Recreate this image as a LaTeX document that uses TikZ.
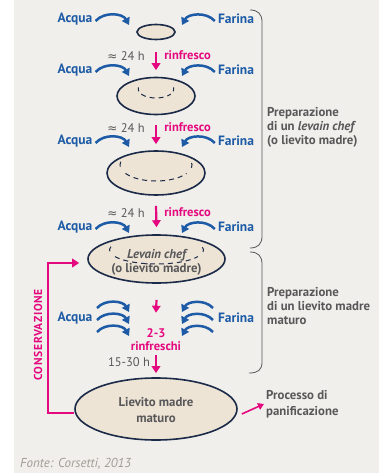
\documentclass[tikz,border=0pt]{standalone}
\usepackage{fontspec}
\setmainfont{PT Sans}
\newfontfamily\symf{DejaVu Sans}
\usetikzlibrary{arrows.meta,shapes.geometric}
\definecolor{bgc}{HTML}{F0EFEB}
\definecolor{blu}{HTML}{1D5BA6}
\definecolor{pnk}{HTML}{E5097F}
\definecolor{eggfill}{HTML}{EDE4D5}
\definecolor{navy}{HTML}{1B2A48}
\definecolor{txt}{HTML}{58585A}
\definecolor{src}{HTML}{A29C95}
\begin{document}
\begin{tikzpicture}[x=1pt,y=-1pt,
  lbl/.style={font=\bfseries\fontsize{13.5}{15}\selectfont, text=blu, inner sep=0pt},
  tm/.style={font=\fontsize{12.5}{14}\selectfont, text=txt, inner sep=0pt},
  rf/.style={font=\bfseries\fontsize{12.5}{14}\selectfont, text=pnk, inner sep=0pt},
  eggnode/.style={ellipse, draw=navy, line width=1.6pt, fill=eggfill, inner sep=0pt},
  barr/.style={draw=blu, line width=2.5pt, -{Triangle[length=7pt,width=8.5pt]}},
  parr/.style={draw=pnk, line width=2.2pt, -{Triangle[length=7pt,width=8.5pt]}},
  innerd/.style={draw=navy, line width=1pt, dash pattern=on 5pt off 4pt},
  brk/.style={draw=txt, line width=0.8pt},
  side/.style={font=\bfseries\fontsize{12.8}{14}\selectfont, text=txt, align=left, inner sep=0pt, anchor=west},
]
\fill[white] (0,0) rectangle (379,473);
\fill[bgc] (14,0) rectangle (379,473);

% eggs
\node[eggnode, minimum width=38pt, minimum height=15pt] (e1) at (156,32) {};
\node[eggnode, minimum width=78pt, minimum height=37pt] (e2) at (156,96) {};
\node[eggnode, minimum width=98pt, minimum height=44pt] (e3) at (156,173) {};
\node[eggnode, minimum width=137pt, minimum height=48pt] (e4) at (156.5,259) {};
\node[eggnode, minimum width=162pt, minimum height=62pt] (e5) at (156,409) {};

% inner dashed rings
\draw[innerd] ([yshift=7pt]e2.center) ++(170:18pt and 9pt) arc[start angle=170, end angle=195, x radius=18pt, y radius=9pt];
\draw[innerd] ([yshift=7pt]e2.center) ++(215:18pt and 9pt) arc[start angle=215, end angle=325, x radius=18pt, y radius=9pt];
\draw[innerd] ([yshift=7pt]e2.center) ++(345:18pt and 9pt) arc[start angle=345, end angle=370, x radius=18pt, y radius=9pt];

\draw[innerd] ([yshift=8pt]e3.center) ++(168:36pt and 16pt) arc[start angle=168, end angle=190, x radius=36pt, y radius=16pt];
\draw[innerd] ([yshift=8pt]e3.center) ++(212:36pt and 16pt) arc[start angle=212, end angle=328, x radius=36pt, y radius=16pt];
\draw[innerd] ([yshift=8pt]e3.center) ++(350:36pt and 16pt) arc[start angle=350, end angle=372, x radius=36pt, y radius=16pt];

\draw[innerd] ([yshift=9pt]e4.center) ++(166:47pt and 14pt) arc[start angle=166, end angle=188, x radius=47pt, y radius=14pt];
\draw[innerd] ([yshift=9pt]e4.center) ++(208:47pt and 14pt) arc[start angle=208, end angle=332, x radius=47pt, y radius=14pt];
\draw[innerd] ([yshift=9pt]e4.center) ++(352:47pt and 14pt) arc[start angle=352, end angle=374, x radius=47pt, y radius=14pt];

\node[font=\bfseries\fontsize{12.8}{14}\selectfont, text=txt, align=center, inner sep=0pt] (t4) at (156.5,262) {\itshape Levain chef\\(o lievito madre)};
\node[font=\bfseries\fontsize{12.8}{16}\selectfont, text=txt, align=center, inner sep=0pt] (t5) at (156,410) {Lievito madre\\maturo};

% Acqua / Farina rows
\foreach \i/\y in {1/19,2/70,3/141,4/227}{
  \node[lbl] (a\i) at (75,\y) {Acqua};
  \node[lbl] (f\i) at (236,\y) {Farina};
  \coordinate (ae\i) at (129,\y+6);
  \coordinate (fe\i) at (182,\y+6);
  \draw[barr] ([xshift=3pt,yshift=-2pt]a\i.east) to[bend left=55] (ae\i);
  \draw[barr] ([xshift=-3pt,yshift=-2pt]f\i.west) to[bend right=55] (fe\i);
}
\node[lbl] (a5) at (75,318) {Acqua};
\node[lbl] (f5) at (236,318) {Farina};
\foreach \k/\d in {1/-12,2/0,3/12}{
  \coordinate (as\k) at (97,320+\d);
  \coordinate (ax\k) at (129,324+\d);
  \coordinate (fs\k) at (213,320+\d);
  \coordinate (fx\k) at (182,324+\d);
  \draw[barr] (as\k) to[bend left=55] (ax\k);
  \draw[barr] (fs\k) to[bend right=55] (fx\k);
}

% time / rinfresco labels
\node[tm] (h1) at (126,56) {{\symf\fontsize{12}{12}\selectfont ≈} 24 h};
\node[rf] (r1) at (187.5,55) {rinfresco};
\node[tm] (h2) at (126,128) {{\symf\fontsize{12}{12}\selectfont ≈} 24 h};
\node[rf] (r2) at (187.5,127) {rinfresco};
\node[tm] (h3) at (126,213) {{\symf\fontsize{12}{12}\selectfont ≈} 24 h};
\node[rf] (r3) at (187.5,212) {rinfresco};
\node[rf, align=center, font=\bfseries\fontsize{12.5}{13}\selectfont] (r23) at (156,340) {2-3\\rinfreschi};
\node[tm] (h4) at (129,362) {15-30 h};

% pink arrows
\draw[parr] ([yshift=-11.5pt]e1.south) -- ([yshift=6.5pt]e2.north);
\draw[parr] ([yshift=-9.5pt]e2.south) -- ([yshift=6pt]e3.north);
\draw[parr] ([yshift=-10pt]e3.south) -- ([yshift=7pt]e4.north);
\draw[parr] ([yshift=-16pt]e4.south) -- ([yshift=16pt]r23.north);
\draw[parr] ([yshift=-4pt]r23.south) -- ([yshift=4pt]e5.north);

% conservazione loop
\draw[draw=pnk, line width=2.2pt, -{Triangle[length=7pt,width=8.5pt]}]
  ([yshift=-4pt]e5.west) -- ++(-26,0) |- ([xshift=-8pt,yshift=-4pt]e4.west);
\node[font=\bfseries\fontsize{11.5}{12}\selectfont\addfontfeature{LetterSpace=6}, text=pnk, rotate=90, inner sep=0pt] (cons) at (38,335) {CONSERVAZIONE};

% processo
\node[side, font=\bfseries\fontsize{12.8}{16.5}\selectfont] (proc) at (266,404) {Processo di\\panificazione};
\draw[draw=pnk, line width=1.6pt, -{Triangle[length=6pt,width=7pt]}] ([xshift=4pt,yshift=-5pt]e5.east) -- ([xshift=-2pt]proc.west);

% brackets
\draw[brk] (250,10) .. controls (258,10) and (262,14) .. (262,22) -- (262,236) .. controls (262,244) and (258,248) .. (250,248);
\draw[brk] (250,252) .. controls (258,252) and (262,256) .. (262,264) -- (262,362) .. controls (262,370) and (258,373) .. (249,373);
\node[side] (s1) at (267,127) {Preparazione\\di un \textit{levain chef}\\(o lievito madre)};
\node[side] (s2) at (267,306) {Preparazione\\di un lievito madre\\maturo};

% source
\node[font=\itshape\fontsize{13}{14}\selectfont, text=src, anchor=west, inner sep=0pt] (fonte) at (20,464) {Fonte: Corsetti, 2013};
\end{tikzpicture}
\end{document}
